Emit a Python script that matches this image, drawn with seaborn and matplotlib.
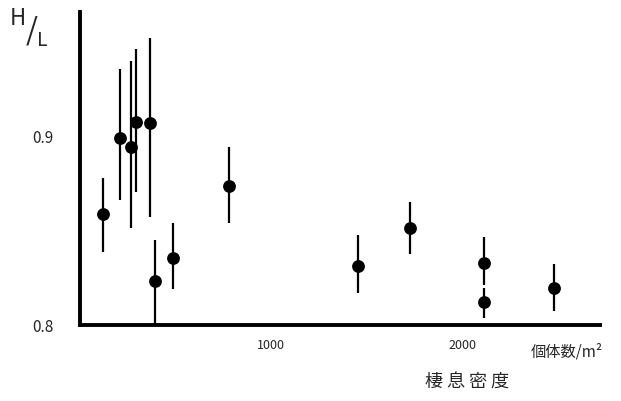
import matplotlib
matplotlib.use("Agg")
import matplotlib.pyplot as plt
import seaborn as sns
import pandas as pd

density = [119, 211, 265, 291, 365, 391, 485, 781, 1454, 1727, 2114, 2115, 2481]
hl_mean = [0.8586, 0.8988, 0.8943, 0.9076, 0.9067, 0.8233, 0.8353, 0.8735, 0.8314, 0.8512, 0.8326, 0.8120, 0.8194]
hl_upper = [0.8780, 0.9354, 0.9397, 0.9459, 0.9517, 0.8450, 0.8538, 0.8943, 0.8476, 0.8652, 0.8464, 0.8194, 0.8321]
hl_lower = [0.8386, 0.8661, 0.8512, 0.8702, 0.8570, 0.8000, 0.8189, 0.8541, 0.8168, 0.8374, 0.8212, 0.8035, 0.8076]
x_ticks = [1000, 2000]
y_ticks = [0.8, 0.9]

df = pd.DataFrame({"density": density, "hl": hl_mean, "lo": hl_lower, "hi": hl_upper})

sns.set_style("white")
plt.rcParams['font.family'] = ['Noto Sans CJK JP', 'DejaVu Sans']

fig = plt.figure(figsize=(6.21, 4.01), dpi=100)
ax = fig.add_axes([0.129, 0.1895, 0.837, 0.7805])

ax.vlines(df["density"], df["lo"], df["hi"], color="black", linewidth=1.6)
sns.scatterplot(data=df, x="density", y="hl", ax=ax, color="black", s=85,
                edgecolor="black", linewidth=0, zorder=3)

ax.set_xlim(0, 2720)
ax.set_ylim(0.8, 0.9656)
ax.set_xticks(x_ticks)
ax.set_xticklabels([str(t) for t in x_ticks], fontsize=9)
ax.set_yticks(y_ticks)
ax.set_yticklabels(["0.8", "0.9"], fontsize=11)
ax.tick_params(axis="x", direction="out", length=4, width=1.5, pad=6)
ax.tick_params(axis="y", direction="in", length=3, width=1.2, pad=19)
ax.set_xlabel("")
ax.set_ylabel("")
for s in ["top", "right"]:
    ax.spines[s].set_visible(False)
for s in ["left", "bottom"]:
    ax.spines[s].set_linewidth(2.8)
    ax.spines[s].set_color("black")

fig.text(0.016, 0.955, "H", fontsize=16, ha="left", va="center")
fig.text(0.042, 0.922, "/", fontsize=22, ha="left", va="center")
fig.text(0.060, 0.900, "L", fontsize=14, ha="left", va="center")

fig.text(0.855, 0.122, "個体数/m²", fontsize=11, ha="left", va="center")
fig.text(0.685, 0.045, "棲 息 密 度", fontsize=13, ha="left", va="center")

fig.savefig("out.png", dpi=100)
